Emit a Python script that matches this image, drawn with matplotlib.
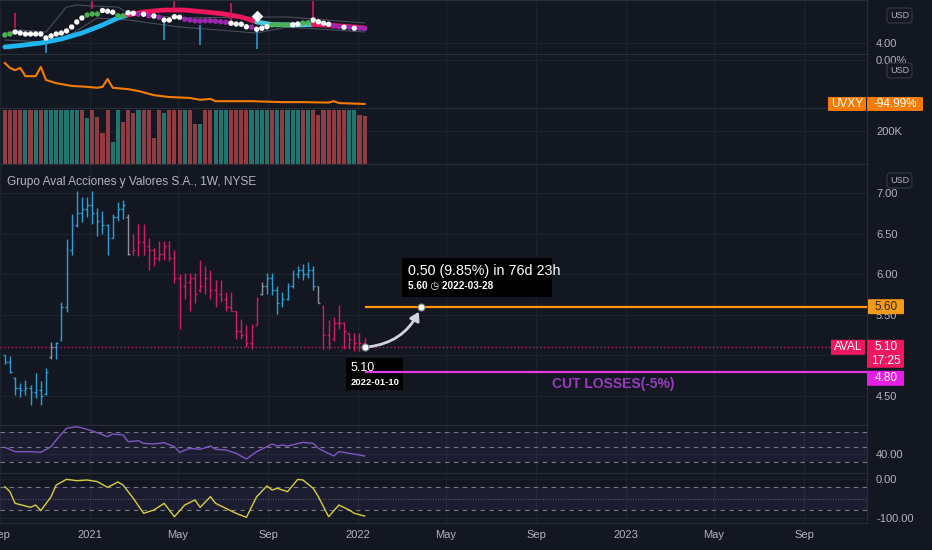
import numpy as np
import pandas as pd
import matplotlib
matplotlib.use('Agg')
import matplotlib.pyplot as plt
import matplotlib.dates as mdates
from matplotlib.patches import FancyArrowPatch, FancyBboxPatch, Rectangle
from matplotlib.transforms import IdentityTransform

plt.rcParams['font.family'] = ['Liberation Sans', 'DejaVu Sans']

W, H = 932, 550
PW = 867
BG = '#131722'
GRID = '#1e222d'
SEP = '#2a2e39'
TXT = '#b2b5be'
BLUE = '#2a9fd6'
PINK = '#d81b60'
GRAY = '#8f929b'

# weekly bars, AVAL (NYSE)
weeks = pd.date_range('2020-09-07', periods=71, freq='W-MON')
opens = [5.00, 4.92, 4.72, 4.60, 4.58, 4.60, 4.55, 4.58, 4.52, 4.98,
         5.10, 5.20, 5.60, 6.30, 6.60, 6.75, 6.80, 6.85, 6.75, 6.65,
         6.60, 6.45, 6.70, 6.80, 6.70, 6.28, 6.30, 6.40, 6.35, 6.30,
         6.20, 6.25, 6.35, 6.20, 5.95, 5.85, 5.90, 5.95, 5.80, 5.85,
         5.95, 5.80, 5.75, 5.70, 5.60, 5.55, 5.30, 5.25, 5.15, 5.38,
         5.75, 5.85, 5.95, 5.80, 5.65, 5.70, 5.85, 6.00, 6.05, 6.00,
         6.05, 5.85, 5.60, 5.25, 5.20, 5.40, 5.40, 5.28, 5.20, 5.15, 5.15]
highs = [5.01, 4.99, 4.74, 4.66, 4.70, 4.64, 4.78, 4.68, 4.85, 5.16,
         5.16, 5.66, 6.43, 6.74, 7.02, 6.95, 6.95, 7.02, 6.82, 6.78,
         6.62, 6.74, 6.89, 6.91, 6.74, 6.49, 6.62, 6.62, 6.45, 6.32,
         6.41, 6.41, 6.41, 6.30, 6.00, 6.01, 6.01, 6.01, 6.18, 6.10,
         6.05, 5.93, 5.93, 5.78, 5.78, 5.55, 5.45, 5.37, 5.39, 5.72,
         5.91, 6.01, 6.01, 5.85, 5.78, 5.89, 6.05, 6.10, 6.12, 6.15,
         6.10, 5.85, 5.62, 5.43, 5.47, 5.62, 5.41, 5.28, 5.28, 5.28, 5.22]
lows = [4.89, 4.78, 4.51, 4.49, 4.51, 4.39, 4.47, 4.39, 4.51, 4.95,
        4.95, 5.18, 5.53, 6.24, 6.58, 6.64, 6.70, 6.62, 6.47, 6.49,
        6.24, 6.45, 6.66, 6.68, 6.24, 6.24, 6.22, 6.24, 6.05, 6.10,
        6.16, 6.18, 6.16, 5.89, 5.32, 5.70, 5.55, 5.64, 5.78, 5.76,
        5.70, 5.60, 5.66, 5.55, 5.55, 5.20, 5.20, 5.10, 5.08, 5.37,
        5.74, 5.76, 5.74, 5.51, 5.60, 5.68, 5.83, 5.95, 5.93, 5.95,
        5.80, 5.64, 5.08, 5.08, 5.18, 5.32, 5.08, 5.08, 5.05, 5.05, 5.08]
closes = [4.92, 4.80, 4.60, 4.58, 4.60, 4.55, 4.58, 4.50, 4.80, 5.10,
          5.15, 5.60, 6.30, 6.60, 6.75, 6.80, 6.85, 6.75, 6.65, 6.60,
          6.45, 6.70, 6.80, 6.85, 6.25, 6.30, 6.40, 6.35, 6.30, 6.20,
          6.25, 6.35, 6.20, 5.95, 5.85, 5.90, 5.95, 5.75, 5.85, 5.95,
          5.80, 5.75, 5.70, 5.60, 5.55, 5.30, 5.25, 5.15, 5.35, 5.70,
          5.85, 5.95, 5.80, 5.65, 5.70, 5.85, 6.00, 6.05, 6.00, 6.05,
          5.85, 5.65, 5.25, 5.15, 5.40, 5.40, 5.30, 5.20, 5.15, 5.15, 5.10]
bar_trend = 'B' * 9 + 'G' + 'B' * 14 + 'G' + 'P' * 25 + 'G' + 'B' * 10 + 'G' + 'P' * 9

# volume (K)
volume = [327, 327, 327, 327, 327, 327, 327, 327, 327, 327,
          327, 327, 327, 327, 327, 327, 279, 327, 285, 188,
          327, 133, 327, 255, 327, 310, 327, 327, 327, 158,
          327, 310, 327, 327, 327, 327, 327, 242, 242, 327,
          327, 327, 327, 327, 327, 327, 327, 327, 327, 327,
          327, 327, 327, 327, 327, 327, 327, 327, 327, 327,
          327, 297, 327, 327, 327, 327, 327, 327, 327, 297, 290]
vol_dir = ('rrrr' + 'g' + 'r' + 'g' + 'r' + 'ggggggg' + 'r' + 'g' + 'rrrr' + 'gg' + 'rrr' + 'g'
           + 'rrrr' + 'g' + 'rrr' + 'g' + 'rr' + 'g' + 'rr' + 'ggg' + 'rrrr' + 'gggg' + 'r' + 'g'
           + 'r' + 'ggg' + 'r' + 'g' + 'rrrrrrr' + 'gg' + 'rr')

# UVXY compare line (%)
uvxy_wk = [0, 1, 2, 3, 4, 6, 7, 8, 10, 13, 16, 18, 19, 20, 21, 24, 26, 29, 32, 36,
           38, 40, 41, 48, 54, 58, 63, 64, 65, 70]
uvxy_pct = [-6.5, -17, -22, -17, -35, -35, -15, -43, -50, -56, -58, -60, -58, -41, -60,
            -63, -67, -76, -80, -82, -86, -84, -89, -89, -91, -91, -92, -89, -93, -94.99]

# RSI
rsi_wk = [0, 2, 5, 7, 9, 10, 12, 14, 16, 18, 20, 21, 23, 24, 26, 27, 29, 31, 33, 34,
          36, 38, 40, 41, 43, 45, 47, 49, 51, 52, 53, 54, 55, 58, 60, 61, 64, 65, 67, 69, 70]
rsi_val = [49.6, 43.8, 43.8, 42.9, 50.4, 59.3, 74.9, 77.1, 73.6, 69.1,
           63.8, 67.3, 66.0, 57.1, 58.4, 54.9, 54.0, 55.8, 50.4, 42.9,
           48.2, 46.9, 51.3, 46.9, 46.0, 41.6, 34.0, 43.8, 50.4, 54.0,
           51.3, 52.7, 51.3, 56.2, 54.9, 48.2, 38.0, 43.8, 41.6, 39.3, 38.0]

# Williams %R
wr_wk = [0, 1, 2, 5, 6, 7, 9, 10, 12, 14, 16, 18, 20, 22, 23, 25, 27, 29, 31, 33,
         35, 37, 38, 40, 41, 43, 45, 47, 49, 51, 52, 53, 55, 57, 58, 60, 61, 63, 65, 67, 68, 70]
wr_val = [-19.7, -32.5, -62.4, -72.6, -66.7, -81.2, -45.3, -15.4, -0.9, -4.3,
          -2.6, -6.8, -21.4, -7.7, -15.4, -49.6, -88.0, -79.5, -62.4, -96.6,
          -66.7, -53.8, -72.6, -45.3, -62.4, -75.2, -88.0, -98.3, -45.3, -17.9,
          -28.2, -23.9, -32.5, -0.9, -2.6, -23.9, -45.3, -96.6, -66.7, -79.5, -88.0, -94.9]

# top overlay pane: moving average, signal dots, envelope, spikes
ma_wk = [0, 3, 7, 11, 15, 19, 22, 24, 27, 31, 35, 38, 42, 46, 49, 52, 56, 60, 64, 68, 70]
ma_val = [3.84, 3.90, 4.00, 4.16, 4.40, 4.72, 5.00, 5.12, 5.24, 5.32, 5.32, 5.26, 5.18,
          5.04, 4.84, 4.74, 4.72, 4.74, 4.70, 4.64, 4.60]
ma_phase = [(0, 24, '#1fb5f0'), (24, 49, '#f0175f'), (49, 60, '#4dc9d6'), (60, 70, '#f0175f')]
dot_val = [4.32, 4.36, 4.44, 4.40, 4.36, 4.36, 4.36, 4.36, 4.20, 4.28,
           4.36, 4.40, 4.48, 4.64, 4.84, 5.00, 5.12, 5.16, 5.16, 5.30,
           5.27, 5.23, 5.09, 5.09, 5.21, 5.19, 5.15, 5.15, 5.09, 5.08,
           5.03, 4.92, 4.92, 5.05, 5.03, 4.95, 4.92, 4.89, 4.88, 4.89,
           4.89, 4.87, 4.85, 4.83, 4.79, 4.76, 4.75, 4.65, 4.63, 4.55,
           4.59, 4.65, 4.72, 4.73, 4.73, 4.73, 4.73, 4.76, 4.80, 4.81,
           4.92, 4.85, 4.79, 4.75, 4.68, 4.65, 4.63, 4.63, 4.59, 4.59, 4.58]
dot_kind = ('ggwwwwwwww' + 'wwwwwwgggw' + 'wwggwwpwpw' + 'pwwwwppppp'
            + 'ppppwwwwpw' + 'wwggggwwgg' + 'wwwwppwpwpp')
env_up_wk = [0, 3, 8, 12, 14, 17, 22, 24, 34, 49, 55, 70]
env_up = [4.40, 4.52, 4.44, 5.44, 5.52, 5.48, 5.44, 5.20, 5.00, 5.04, 5.04, 4.80]
env_lo_wk = [0, 8, 12, 18, 24, 34, 49, 55, 70]
env_lo = [4.12, 4.04, 4.24, 5.00, 4.92, 4.64, 4.40, 4.64, 4.44]
spike_wk = [2, 8, 17, 31, 33, 38, 44, 49, 60]
spike_top = [5.20, 4.20, 5.90, 4.92, 5.90, 4.72, 5.60, 4.52, 5.90]
spike_bot = [4.60, 3.60, 5.36, 4.12, 5.36, 3.92, 4.84, 3.76, 4.92]
spike_up = 'pbpbpbpbp'

# levels / forecast
last_price = 5.10
target_price = 5.60
stop_price = 4.80
start_date = '2022-01-10'
target_date = '2022-03-28'
forecast_text = '0.50 (9.85%) in 76d 23h'

tick_dates = ['2020-09-01', '2021-01-01', '2021-05-01', '2021-09-01', '2022-01-01',
              '2022-05-01', '2022-09-01', '2023-01-01', '2023-05-01', '2023-09-01']
tick_labels = ['Sep', '2021', 'May', 'Sep', '2022', 'May', 'Sep', '2023', 'May', 'Sep']

wx = mdates.date2num(weeks.to_pydatetime())
t21 = mdates.date2num(pd.Timestamp('2021-01-01').to_pydatetime())
px_day = 268 / 365
xlim = (t21 - 90 / px_day, t21 + (PW - 90) / px_day)
tx = [mdates.date2num(pd.Timestamp(d).to_pydatetime()) for d in tick_dates]

fig = plt.figure(figsize=(W / 100, H / 100), dpi=100, facecolor=BG)


def pane(top, bottom, ylim, yt, ylab):
    ax = fig.add_axes([0, 1 - bottom / H, PW / W, (bottom - top) / H])
    ax.set_facecolor(BG)
    ax.spines['left'].set_visible(False)
    for s in ['top', 'bottom', 'right']:
        ax.spines[s].set_color(SEP)
    ax.set_xlim(xlim)
    ax.set_ylim(ylim)
    ax.set_xticks(tx)
    ax.set_xticklabels(tick_labels)
    ax.set_yticks(yt)
    ax.set_yticklabels(ylab)
    ax.yaxis.tick_right()
    ax.tick_params(axis='y', length=0, pad=6.5, labelsize=8, labelcolor=TXT)
    ax.tick_params(axis='x', length=0, labelbottom=False)
    ax.grid(True, color=GRID, lw=0.9)
    ax.set_axisbelow(True)
    return ax


ax_top = pane(0, 54, (3.56, 5.72), [4.0], ['4.00'])
ax_vx = pane(54, 108, (-103.7, 13.0), [0], ['0.00%'])
ax_vol = pane(108, 164, (0, 339), [200], ['200K'])
# 5.00 sits under the last-price tag, so its label is left empty
ax_main = pane(164, 425, (4.143, 7.357), [4.5, 5.0, 5.5, 6.0, 6.5, 7.0],
               ['4.50', '', '5.50', '6.00', '6.50', '7.00'])
ax_rsi = pane(425, 473, (15.33, 79.33), [40], ['40.00'])
ax_wr = pane(473, 523, (-112.8, 15.38), [0, -100], ['0.00', '-100.00'])
ax_wr.tick_params(axis='x', labelbottom=True, labelsize=8, labelcolor=TXT, pad=5)

# ---- top overlay pane
ax_top.plot(wx[env_up_wk], env_up, color='#4a4e59', lw=0.8)
ax_top.plot(wx[env_lo_wk], env_lo, color='#4a4e59', lw=0.8)
ma_x = wx[ma_wk]
for a, b, col in ma_phase:
    sel = [k for k, w in enumerate(ma_wk) if a <= w <= b]
    ax_top.plot(ma_x[sel], np.array(ma_val)[sel], color=col, lw=3.4, solid_capstyle='round')
spk_col = {'p': '#e0185e', 'b': '#26a5d9'}
for k in range(len(spike_wk)):
    ax_top.vlines(wx[spike_wk[k]], spike_bot[k], spike_top[k], color=spk_col[spike_up[k]], lw=1.1)
dot_col = {'w': 'white', 'g': '#4caf50', 'p': '#9c27b0'}
ax_top.scatter(wx, dot_val, s=15, c=[dot_col[k] for k in dot_kind], zorder=4, linewidths=0)
ax_top.scatter([wx[49]], [5.08], marker='D', s=24, color='white', zorder=5)

# ---- UVXY pane
ax_vx.plot(wx[uvxy_wk], uvxy_pct, color='#f57c00', lw=1.5)

# ---- volume pane
vcol = {'r': '#8f3d43', 'g': '#22756e'}
ax_vol.bar(wx, volume, width=5.6, color=[vcol[k] for k in vol_dir])

# ---- main pane: OHLC bars
bcol = {'B': BLUE, 'P': PINK, 'G': GRAY}
cols = [bcol[k] for k in bar_trend]
ax_main.vlines(wx, lows, highs, colors=cols, lw=1.0)
ax_main.hlines(opens, wx - 2.4, wx, colors=cols, lw=1.0)
ax_main.hlines(closes, wx, wx + 2.4, colors=cols, lw=1.0)
ax_main.axhline(last_price, color='#e91e63', lw=0.9, ls=(0, (1, 2)))
x_last = mdates.date2num(pd.Timestamp(start_date).to_pydatetime())
x_tgt = mdates.date2num(pd.Timestamp(target_date).to_pydatetime())
ax_main.hlines(target_price, x_last, xlim[1], color='#ff9800', lw=1.6, zorder=5)
ax_main.hlines(stop_price, x_last, xlim[1], color='#e33be3', lw=1.6, zorder=5)
ax_main.annotate('CUT LOSSES(-5%)', (mdates.date2num(pd.Timestamp('2022-12-15').to_pydatetime()), stop_price),
                 xytext=(0, -5), textcoords='offset pixels', color='#9b3bc0', fontsize=10,
                 fontweight='bold', ha='center', va='top')
arr = FancyArrowPatch((x_last, last_price), (x_tgt, target_price), connectionstyle='arc3,rad=0.3',
                      arrowstyle='-|>,head_length=5,head_width=3', mutation_scale=1,
                      color='#d1d4dc', lw=2, shrinkA=3, shrinkB=4, zorder=6)
ax_main.add_patch(arr)
ax_main.scatter([x_last, x_tgt], [last_price, target_price], s=26, color='white',
                edgecolors='#787b86', linewidths=0.8, zorder=7)
ax_main.text(0.008, 1 - 18 / 261, 'Grupo Aval Acciones y Valores S.A., 1W, NYSE', transform=ax_main.transAxes,
             color=TXT, fontsize=8.6, va='center', ha='left')

# ---- RSI pane
ax_rsi.axhspan(30, 70, color='#7e57c2', alpha=0.1, lw=0)
for lv in (70, 50, 30):
    ax_rsi.axhline(lv, color='#787b86', lw=0.8, ls=(0, (4, 4)))
ax_rsi.plot(wx[rsi_wk], rsi_val, color='#7e57c2', lw=1.0)

# ---- Williams %R pane
ax_wr.axhspan(-80, -20, color='#7e57c2', alpha=0.1, lw=0)
ax_wr.axhline(-20, color='#787b86', lw=0.8, ls=(0, (4, 4)))
ax_wr.axhline(-80, color='#787b86', lw=0.8, ls=(0, (4, 4)))
ax_wr.axhline(-50, color='#787b86', lw=0.6, ls=(0, (1, 2)))
ax_wr.plot(wx[wr_wk], wr_val, color='#d8cf3f', lw=1.0)


# ---- labels drawn in pixel space (top-left origin)
def img_y(ax, v):
    return H - ax.transData.transform((xlim[0], v))[1]


def img_pt(ax, x, v):
    dx, dy = ax.transData.transform((x, v))
    return dx, H - dy


def box(x0, x1, y0, y1, fc, ec='none', rs=2.5, z=8):
    p = FancyBboxPatch((x0, H - y1), x1 - x0, y1 - y0, boxstyle='round,pad=0,rounding_size=%g' % rs,
                       transform=IdentityTransform(), fc=fc, ec=ec, lw=0.8, zorder=z)
    fig.add_artist(p)


def data_box(ax, x0, x1, y0, y1, fc, z=3):
    # pixel rectangle turned into data units so it sorts with the axes' own lines
    inv = ax.transData.inverted()
    (a0, b0) = inv.transform((x0, H - y1))
    (a1, b1) = inv.transform((x1, H - y0))
    ax.add_patch(Rectangle((a0, b0), a1 - a0, b1 - b0, fc=fc, ec='none', zorder=z, clip_on=False))


def label(x, y, s, color='white', fs=8, ha='center', weight='normal', z=9):
    fig.text(x, H - y, s, transform=IdentityTransform(), color=color, fontsize=fs,
             ha=ha, va='center', fontweight=weight, zorder=z)


for yc in (15.5, 70.5, 180.5):
    box(887, 912, yc - 7.5, yc + 7.5, BG, ec='#363a45', rs=3)
    label(899.5, yc, 'USD', TXT, fs=6.5)

yv = img_y(ax_vx, uvxy_pct[-1])
box(828, 866, yv - 7, yv + 7, '#f57c00', rs=1)
label(847, yv, 'UVXY', 'white', fs=8.5)
box(867, 923, yv - 7, yv + 7, '#f57c00', rs=1)
label(895, yv, '%.2f%%' % uvxy_pct[-1], 'white', fs=8.5)

yt = img_y(ax_main, target_price)
box(868, 904, yt - 7.5, yt + 7.5, '#f59a16', rs=1)
label(886, yt, '%.2f' % target_price, '#2b2b2b', fs=8.5)

yl = img_y(ax_main, last_price)
box(831, 865, yl - 7.5, yl + 7.5, '#f0175f', rs=1)
label(848, yl, 'AVAL', 'white', fs=8.5)
box(867, 904, yl - 7.5, yl + 20.5, '#f0175f', rs=1)
label(886, yl, '%.2f' % last_price, 'white', fs=8.5)
label(886, yl + 14, '17:25', 'white', fs=8.5)

ys = yl + 31
box(867, 904, ys - 7.5, ys + 7.5, '#e61ee6', rs=1)
label(886, ys, '%.2f' % stop_price, 'white', fs=8.5)

# forecast labels (boxes sit under the level lines, like the reference)
sx, sy = img_pt(ax_main, x_last, last_price)
data_box(ax_main, sx - 19, sx + 38, sy + 10.5, sy + 42.5, 'black')
label(sx - 14, sy + 20.5, '%.2f' % last_price, 'white', fs=9, ha='left')
label(sx - 14, sy + 35, start_date, 'white', fs=6.8, ha='left', weight='bold')

ex, ey = img_pt(ax_main, x_tgt, target_price)
data_box(ax_main, ex - 19, ex + 131, ey - 49, ey - 10, 'black')
label(ex - 13, ey - 36, forecast_text, 'white', fs=10.3, ha='left')
label(ex - 13, ey - 21, '%.2f \u25f7 %s' % (target_price, target_date), 'white', fs=7.2, ha='left',
      weight='bold')

fig.savefig('out.png', dpi=100, facecolor=BG)
